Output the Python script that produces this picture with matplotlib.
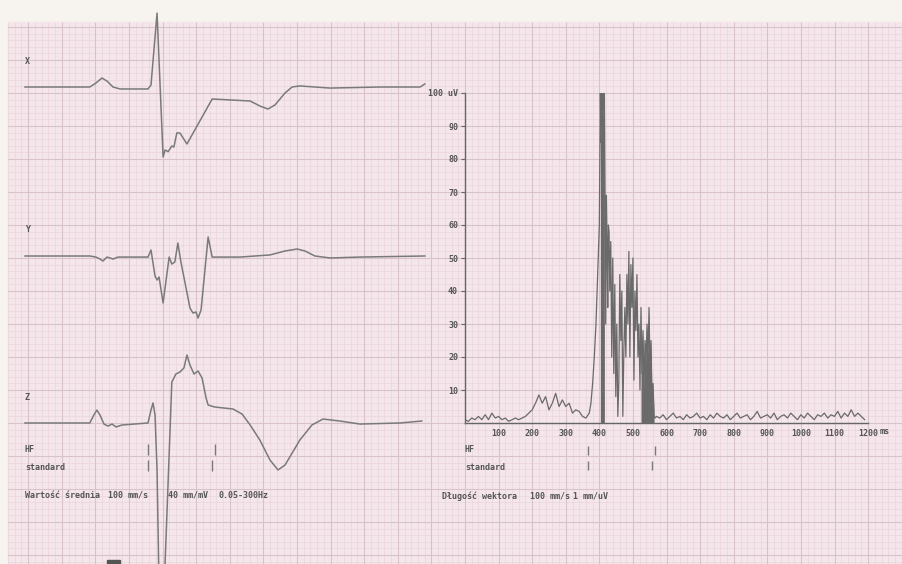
import numpy as np
import matplotlib
matplotlib.use("Agg")
import matplotlib.pyplot as plt
from matplotlib import transforms
from matplotlib.patches import Rectangle

# --- averaged leads X, Y, Z : time in ms, amplitude in mV (100 mm/s, 40 mm/mV)
x_ms = [0, 193, 211, 229, 244, 262, 283, 366, 375, 393, 411, 417, 426, 437, 443, 452, 461, 482, 557,
        610, 670, 699, 723, 744, 774, 795, 818, 908, 1057, 1176, 1190]
x_mv = [0, 0, 0.03, 0.068, 0.045, 0, -0.015, -0.015, 0.015, 0.56, -0.53, -0.477, -0.49, -0.447, -0.455,
        -0.348, -0.348, -0.432, -0.091, -0.098, -0.106, -0.144, -0.167, -0.136, -0.045, 0, 0.008, -0.008,
        0, 0, 0.023]

y_ms = [0, 193, 211, 223, 232, 244, 253, 262, 277, 366, 375, 387, 393, 399, 411, 429, 437, 446, 455, 464,
        491, 500, 509, 515, 524, 545, 557, 640, 729, 774, 810, 833, 863, 908, 997, 1190]
y_mv = [0, 0, -0.008, -0.023, -0.038, -0.008, -0.015, -0.023, -0.008, -0.008, 0.045, -0.152, -0.182,
        -0.159, -0.356, -0.008, -0.061, -0.045, 0.098, -0.045, -0.394, -0.432, -0.424, -0.47, -0.409,
        0.144, -0.008, -0.008, 0.008, 0.038, 0.053, 0.038, 0, -0.015, -0.008, 0]

z_ms = [0, 193, 205, 214, 223, 235, 247, 259, 271, 289, 366, 375, 381, 387, 393, 400, 412, 437, 449, 461,
        473, 482, 491, 503, 515, 527, 539, 545, 565, 619, 646, 670, 699, 729, 753, 774, 818, 854, 887,
        937, 997, 1116, 1181]
z_mv = [0, 0, 0.061, 0.098, 0.061, -0.008, -0.023, -0.008, -0.03, -0.015, 0, 0.098, 0.152, 0.061,
        -0.356, -1.4, -1.4, 0.31, 0.371, 0.386, 0.417, 0.515, 0.439, 0.371, 0.394, 0.341, 0.189, 0.136,
        0.121, 0.106, 0.068, -0.015, -0.129, -0.28, -0.356, -0.318, -0.129, -0.015, 0.03, 0.015,
        -0.008, 0, 0.015]

# --- vector magnitude (uV) vs time (ms)
low_ms = list(range(0, 380, 10))
low_uv = [1.0, 0.5, 1.5, 1.0, 2.0, 1.0, 2.5, 1.0, 3.0, 1.5, 2.0, 1.0, 1.5, 0.5, 1.0, 1.5, 1.0, 1.5, 2.0,
          3.0, 4.0, 6.0, 8.5, 6.0, 8.0, 4.0, 6.0, 9.0, 5.0, 7.0, 5.0, 6.0, 3.0, 4.0, 3.5, 2.0, 1.5, 3.0]
qrs_ms = [375, 380, 385, 390, 395, 400, 403, 405, 407, 409, 411, 413, 415, 417, 419, 421, 423, 425, 427,
          429, 431, 434, 437, 440, 443, 446, 449, 452, 455, 458, 461, 464, 467, 470, 473, 476, 479, 482,
          485, 488, 491, 494, 497, 500, 503, 506, 509, 512, 515, 518, 521, 524, 527, 530, 533, 536, 539,
          542, 545, 548, 551, 554, 557, 560, 563, 566, 570]
qrs_uv = [6, 12, 20, 30, 45, 60, 100, 85, 100, 90, 100, 95, 100, 70, 30, 69, 55, 35, 60, 58, 40, 55, 20,
          50, 15, 42, 8, 30, 2, 12, 45, 25, 40, 2, 22, 35, 20, 45, 30, 52, 20, 48, 35, 50, 13, 40, 28, 45,
          20, 30, 10, 35, 15, 28, 10, 25, 18, 30, 20, 35, 15, 25, 5, 12, 2, 1.5, 2]
tail_ms = list(range(580, 1200, 10))
tail_uv = [1.5, 2.5, 1, 2, 3, 1.5, 2, 1, 2.5, 1.5, 2, 3, 1.5, 2, 1, 2.5, 1.5, 3, 2, 1.5, 2.5, 1, 2, 3,
           1.5, 2, 2.5, 1, 2, 3.5, 1.5, 2, 2.5, 1.5, 3, 1, 2, 2.5, 1.5, 3, 2, 1, 2.5, 1.5, 3, 2, 1, 2.5,
           2, 3, 1.5, 2.5, 2, 3.5, 1.5, 3, 2, 4, 2, 3, 2, 1]
dense_ranges = [(401, 416), (524, 563)]

hf_ms = [367, 566]
std_ms = [367, 556]

xticks_ms = [100, 200, 300, 400, 500, 600, 700, 800, 900, 1000, 1100, 1200]
yticks_uv = [10, 20, 30, 40, 50, 60, 70, 80, 90, 100]
ytick_labels = ['10', '20', '30', '40', '50', '60', '70', '80', '90', '100 uV']

# paper layout (pixels)
W, H = 903, 564
PX_MS = 0.336      # 100 mm/s
PX_MV = 132.0      # 40 mm/mV
LEFT0 = 25
bases = {'X': 87, 'Y': 256, 'Z': 423}

ink = '#7a7a7a'
txt = dict(family='DejaVu Sans Mono', weight='bold', size=6, color='#555555', va='center')

fig = plt.figure(figsize=(W / 100, H / 100), dpi=100)

bg = fig.add_axes([0, 0, 1, 1])
bg.set_xlim(0, W)
bg.set_ylim(H, 0)
bg.axis('off')
bg.add_patch(Rectangle((0, 0), W, H, color='#f7f3ee', zorder=0))
bg.add_patch(Rectangle((8, 22), W - 8, H - 22, color='#f4e6ea', zorder=0))
vx_min = np.arange(465 - 68 * 6.72, W, 6.72)
vx_maj = np.arange(465 - 13 * 33.6, W, 33.6)
hy_min = np.arange(423 - 60 * 6.6, H, 6.6)
hy_maj = np.arange(423 - 12 * 33.0, H, 33.0)
bg.vlines(vx_min[vx_min > 8], 22, H, color='#ead6dc', lw=0.5, zorder=1)
bg.hlines(hy_min[hy_min > 22], 8, W, color='#ead6dc', lw=0.5, zorder=1)
bg.vlines(vx_maj[vx_maj > 8], 22, H, color='#d9c3ca', lw=0.8, zorder=1)
bg.hlines(hy_maj[hy_maj > 22], 8, W, color='#d9c3ca', lw=0.8, zorder=1)
bg.add_patch(Rectangle((107, 560), 13, 4, color='#555555', zorder=2))


def lead_axes(base):
    ax = fig.add_axes([0, 0, 1, 1], facecolor='none')
    ax.set_xlim(-LEFT0 / PX_MS, (W - LEFT0) / PX_MS)
    ax.set_ylim((base - H) / PX_MV, base / PX_MV)
    ax.axis('off')
    return ax


for name, t, v in [('X', x_ms, x_mv), ('Y', y_ms, y_mv), ('Z', z_ms, z_mv)]:
    ax = lead_axes(bases[name])
    ax.plot(t, v, color=ink, lw=1.1)
    bg.text(25, bases[name] - 26, name, **txt)

# HF / standard markers, left panel
tl = transforms.blended_transform_factory(ax.transData, bg.transData)
bg.vlines(hf_ms, 444, 455, color=ink, lw=1, transform=tl)
bg.vlines(std_ms, 460, 471, color=ink, lw=1, transform=tl)
bg.text(25, 450, 'HF', **txt)
bg.text(25, 467, 'standard', **txt)
bg.text(25, 495, 'Wartość średnia', **txt)
bg.text(108, 495, '100 mm/s', **txt)
bg.text(168, 495, '40 mm/mV', **txt)
bg.text(219, 495, '0.05-300Hz', **txt)

# right panel: vector magnitude
ax_r = fig.add_axes([465 / W, (H - 423) / H, 403 / W, 330 / H], facecolor='none')
spec_ms = np.array(low_ms + qrs_ms + tail_ms)
spec_uv = np.array(low_uv + qrs_uv + tail_uv)
ax_r.plot(spec_ms, spec_uv, color='#6a6a6a', lw=0.9)
for a, b in dense_ranges:
    m = (spec_ms >= a) & (spec_ms <= b)
    ax_r.fill_between(spec_ms[m], 0, spec_uv[m], color='#6a6a6a', lw=0)
ax_r.set_xlim(0, 1200)
ax_r.set_ylim(0, 100)
for s in ['top', 'right']:
    ax_r.spines[s].set_visible(False)
for s in ['left', 'bottom']:
    ax_r.spines[s].set_color('#666666')
    ax_r.spines[s].set_linewidth(1.0)
ax_r.set_xticks(xticks_ms)
ax_r.set_yticks(yticks_uv)
ax_r.set_yticklabels(ytick_labels)
ax_r.tick_params(axis='x', length=0, pad=4)
ax_r.tick_params(axis='y', length=3, width=0.8, color='#666666', pad=2)
for lab in ax_r.get_xticklabels() + ax_r.get_yticklabels():
    lab.set_family('DejaVu Sans Mono')
    lab.set_weight('bold')
    lab.set_fontsize(6)
    lab.set_color('#555555')
bg.text(880, 432, 'ms', **txt)

tr = transforms.blended_transform_factory(ax_r.transData, bg.transData)
bg.vlines(hf_ms, 446, 455, color=ink, lw=1, transform=tr)
bg.vlines(std_ms, 461, 470, color=ink, lw=1, transform=tr)
bg.text(465, 450, 'HF', **txt)
bg.text(465, 468, 'standard', **txt)
bg.text(442, 496, 'Długość wektora', **txt)
bg.text(530, 496, '100 mm/s', **txt)
bg.text(573, 496, '1 mm/uV', **txt)

fig.savefig('out.png', dpi=100)
